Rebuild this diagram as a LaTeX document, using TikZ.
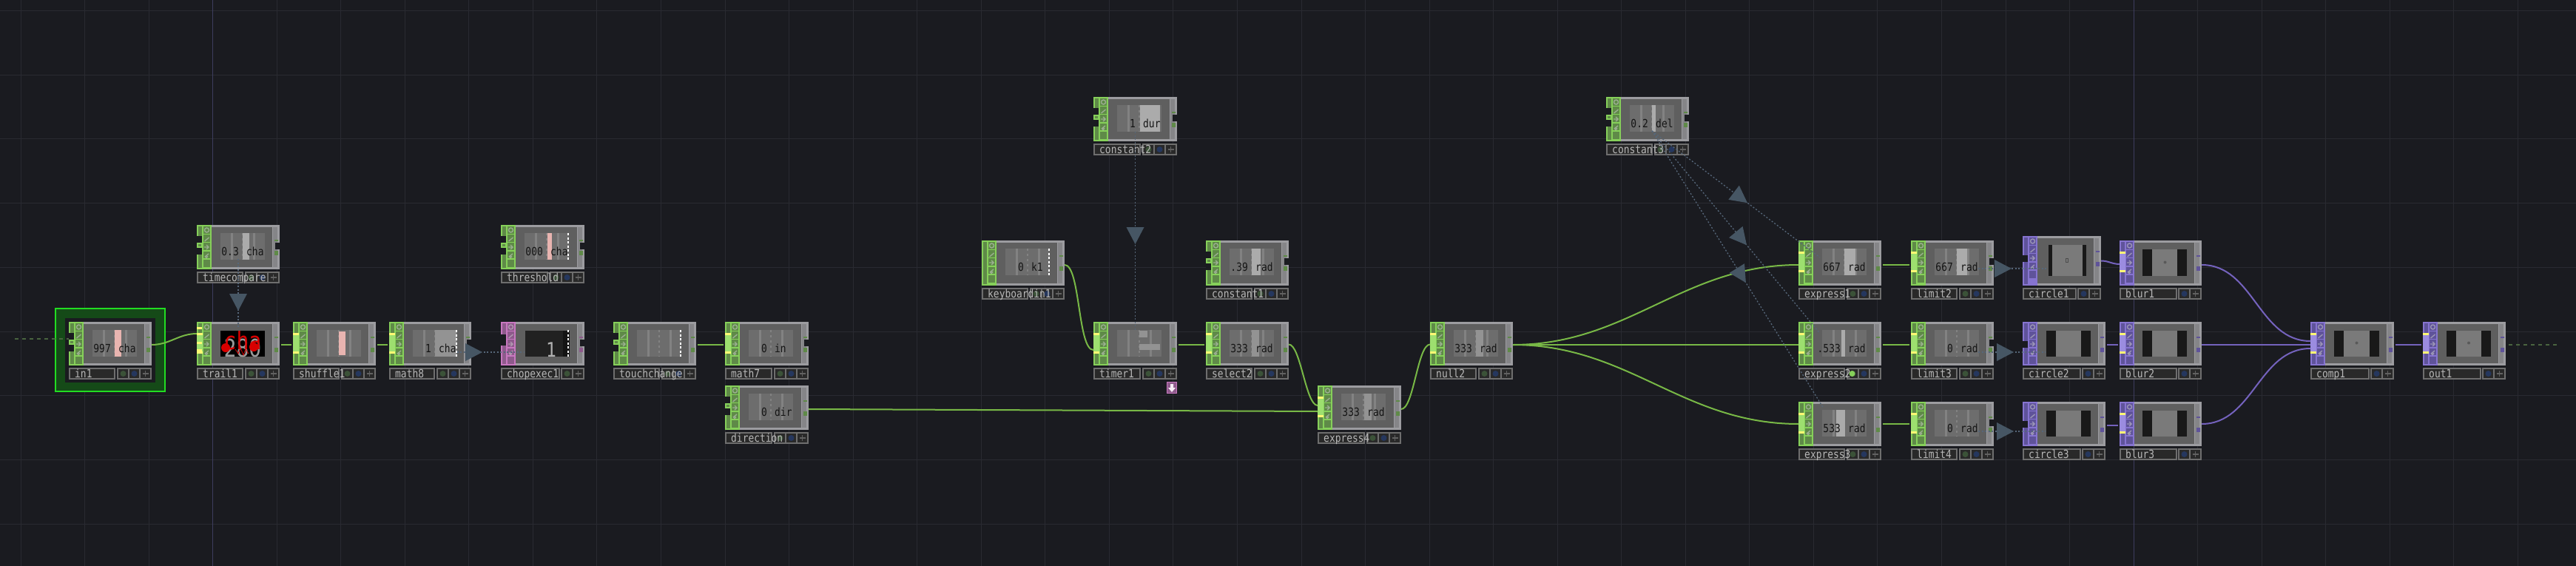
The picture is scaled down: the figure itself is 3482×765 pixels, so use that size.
\documentclass[tikz,border=0pt]{standalone}
\usepackage{fontspec}
\usetikzlibrary{decorations.markings}
\newfontfamily\opfont[FakeStretch=0.85]{DejaVu Sans Mono}

\definecolor{bgcol}{HTML}{1A1B20}
\definecolor{gridcol}{HTML}{292A31}
\definecolor{gridblue}{HTML}{3D3D5E}
\definecolor{frame}{HTML}{9C9CA0}
\definecolor{inner}{HTML}{5F5F5F}
\definecolor{viewcol}{HTML}{6D6D6D}
\definecolor{barcol}{HTML}{828282}
\definecolor{tagcol}{HTML}{6E6E6E}
\definecolor{tagfill}{HTML}{292929}
\definecolor{dotgreen}{HTML}{3B5238}
\definecolor{dotblue}{HTML}{25375E}
\definecolor{pinkbar}{HTML}{E8B4B0}
\definecolor{lightbar}{HTML}{ABABAB}
\definecolor{midbar}{HTML}{939393}
\definecolor{refcol}{HTML}{56677A}
\definecolor{tipcol}{HTML}{465664}
\definecolor{selline}{HTML}{22DD22}
\definecolor{selfill}{HTML}{154A18}
\definecolor{chopgreen}{HTML}{86D05A}
\definecolor{chopdark}{HTML}{5F8A48}
\definecolor{chopbright}{HTML}{9DDF6F}
\definecolor{chopwire}{HTML}{78B846}
\definecolor{toppurple}{HTML}{8674D0}
\definecolor{topdark}{HTML}{5F539A}
\definecolor{topbright}{HTML}{9B8CE0}
\definecolor{topwire}{HTML}{7462BD}
\definecolor{datpink}{HTML}{C878C0}
\definecolor{datdark}{HTML}{8E5A8C}

\tikzset{
  opbody/.style={fill=frame, anchor=north west, inner sep=0pt, outer sep=0pt},
  optag/.style={draw=tagcol, fill=tagfill, line width=2pt},
  oplabel/.style={text=black!28, anchor=base west, inner sep=0pt,
    font=\opfont\fontsize{15.2}{15.2}\selectfont},
  opnum/.style={text=black!92, inner sep=0pt,
    font=\opfont\fontsize{15.2}{15.2}\selectfont},
  opglyph/.style={draw=black!20!white, draw opacity=.55, line width=1.4pt},
  wire/.style={line width=2pt},
  chopline/.style={wire, draw=chopwire},
  topline/.style={wire, draw=topwire},
  extline/.style={draw=chopdark!60!gridcol, line width=2pt, dash pattern=on 5pt off 5pt},
  refline/.style={draw=refcol, line width=1.3pt, dash pattern=on 2pt off 2.5pt,
    postaction={decorate, decoration={markings, mark=at position #1 with
      {\fill[tipcol] (-23pt,12pt) -- (0pt,0pt) -- (-23pt,-12pt) -- cycle;}}}}
}

% (id)(x0,y0)(x1,y1){label}{buttons}{input kind}{output notch}
\def\opnode(#1)(#2,#3)(#4,#5)#6#7#8#9{%
  \def\opid{#1}\def\xa{#2}\def\ya{#3}\def\xb{#4}\def\yb{#5}%
  \node[opbody, minimum width={(#4-#2)*1pt}, minimum height={(#5-#3)*1pt}] (#1) at (#2,#3) {};
  \fill[inner] (#2+3,#3+3) rectangle (#4-10,#5-3);
  \fill[frame!85!black] (#4-9,#3+3) rectangle (#4-3,#5-3);
  \fill[opdark] (#4-7,#3+20) rectangle (#4-2,#3+22);
  \fill[opdark] (#4-7,#3+35) rectangle (#4-2,#3+41);
  \fill[opcol] (#2,#3) rectangle (#2+20,#5);
  \fill[opdark] (#2+2,#3+2) rectangle (#2+7,#5-2);
  \foreach \k in {0,...,4} {\fill[opdark] (#2+9,#3+2+\k*11.2) rectangle ++(9,9.8);}
  \draw[opglyph] (#2+13.5,#3+7) circle (3);
  \draw[opglyph] (#2+10.5,#3+22) -- ++(6,-5);
  \draw[opglyph] (#2+10,#3+30) -- ++(6,0) (#2+13,#3+27) -- ++(3,3) -- ++(-3,3);
  \draw[opglyph] (#2+11,#3+43) -- ++(5,-4) (#2+13,#3+43) circle (1.5);
  \ifcase#8\relax
  \or
    \fill[bgcol] (#2,#3+15) rectangle (#2+7,#3+25);
    \fill[bgcol] (#2,#3+30) rectangle (#2+7,#3+40);
    \draw[opcol, fill=opdark, line width=1.5pt] (#2+1,#3+25) rectangle (#2+7,#3+30);
  \or
    \fill[opbright] (#2,#3+17) rectangle (#2+8,#3+42);
    \fill[yellow!55!white] (#2,#3+15) rectangle (#2+8,#3+18);
    \fill[yellow!55!white] (#2,#3+40) rectangle (#2+8,#3+43);
  \or
    \fill[bgcol] (#2,#3+26) rectangle (#2+7,#3+35);
  \or
    \fill[bgcol] (#2,#3+17) rectangle (#2+7,#3+32);
  \fi
  \ifnum#9=1 \fill[bgcol] (#4-6,#3+24) rectangle (#4,#3+33);\fi
  \draw[optag] (#2+1,#5+4) rectangle (#4-#7*16-2,#5+18);
  \foreach \b in {1,...,#7} {\draw[optag] (#4-1-\b*15,#5+4) rectangle (#4-1-\b*15+15,#5+18);}
  \ifnum#7=3 \fill[dotgreen] (#4-38.5,#5+11) circle (4);\fi
  \fill[opdot] (#4-23.5,#5+11) circle (4);
  \draw[black!62, line width=1.5pt] (#4-12.5,#5+11) -- ++(8,0) (#4-8.5,#5+7) -- ++(0,8);
  \node[oplabel] (#1-l) at (#2+8,#5+16) {#6};
}
\newcommand{\opfamily}[3]{\colorlet{opcol}{#1}\colorlet{opdark}{#2}\colorlet{opbright}{#3}}
\newcommand{\opchop}[1]{%
  \fill[viewcol] (\xa+32,\ya+11) rectangle (\xa+92,\ya+47);
  \draw[barcol, line width=3pt] (\xa+47,\ya+11) -- (\xa+47,\ya+47) (\xa+77,\ya+11) -- (\xa+77,\ya+47);
  \draw[barcol, line width=2.5pt, dash pattern=on 3pt off 4pt] (\xa+62,\ya+11) -- (\xa+62,\ya+47);
  #1}
\newcommand{\opbar}[3]{\fill[#3] (\xa+#1,\ya+11) rectangle (\xa+#2,\ya+47);}
\newcommand{\opdots}{\draw[white, line width=2pt, dash pattern=on 3pt off 2.5pt] (\xa+91,\ya+11) -- (\xa+91,\ya+47);}
\newcommand{\opval}[2]{%
  \node[opnum, anchor=base east] (\opid-v) at (\xa+57,\ya+41) {#1};
  \node[opnum, anchor=base west] (\opid-u) at (\xa+67,\ya+41) {#2};}
% left offset, height, black band
\newcommand{\optop}[3]{%
  \fill[black!90] (\xa+#1,\ya+12) rectangle (\xb-20,\ya+#2);
  \fill[black!52] (\xa+#1+#3,\ya+12) rectangle (\xb-20-#3,\ya+#2);}
\newcommand{\opspot}{\fill[black!65] ({(\xa+\xb+12)/2},{(\ya+\yb)/2-1}) circle (2);}

\begin{document}
\begin{tikzpicture}[x=1pt, y=-1pt]
  \useasboundingbox (0,0) rectangle (3482,765);
  \fill[bgcol] (0,0) rectangle (3482,765);
  \foreach \k in {0,...,39} {\draw[gridcol, line width=1pt] (28+86.55*\k,0) -- (28+86.55*\k,765);}
  \foreach \k in {0,...,8} {\draw[gridcol, line width=1pt] (0,14.5+86.7*\k) -- (3482,14.5+86.7*\k);}
  \foreach \k in {3,33} {\draw[gridblue, line width=1pt] (28+86.55*\k,0) -- (28+86.55*\k,765);}
  \draw[selline, fill=selfill, line width=2pt] (75,417) rectangle (223,529);
  \fill[bgcol] (88,430) rectangle (210,517);

  \opfamily{chopgreen}{chopdark}{chopbright}
  \colorlet{opdot}{dotblue}
  \opnode(in1)(93,435)(205,494){in1}{3}{1}{0}
  \opchop{\opbar{62}{71}{pinkbar}} \opval{997}{cha}
  \opnode(timecompare)(266,304)(378,364){timecompare}{3}{1}{1}
  \opchop{\opbar{62}{71}{lightbar}} \opval{0.3}{cha}
  \opnode(trail1)(266,435)(378,494){trail1}{3}{2}{0}
  \foreach \k in {7,27,37} {\fill[yellow!55!white] (266,435+\k) rectangle (273,438+\k);}
  \fill[black] (298,447) rectangle (358,482);
  \begin{scope}
    \clip (298,447) rectangle (358,482);
    \node[text=black!40, inner sep=0pt, anchor=base, font=\opfont\fontsize{33}{33}\selectfont] (trail1-v) at (328,482) {280};
    \node[text=red!85!black, inner sep=0pt, anchor=base, font=\opfont\fontsize{33}{33}\selectfont] (trail1-u) at (328,472) {cha};
    \fill[red!85!black] (305,470) circle (6) (343,469) circle (6);
    \draw[red!85!black, line width=.8pt] (318,472) -- (322,478) -- (325,470) -- (329,480) -- (332,472) -- (336,478);
  \end{scope}
  \opnode(shuffle1)(396,435)(508,494){shuffle1}{3}{2}{0}
  \opchop{\fill[pinkbar] (\xa+62,\ya+13) rectangle (\xa+71,\ya+45);}
  \opnode(math8)(526,435)(637,494){math8}{3}{2}{1}
  \opchop{\opbar{62}{91}{midbar}\opdots} \opval{1}{cha}
  \opnode(threshold)(677,304)(790,364){threshold}{3}{1}{1}
  \opchop{\opbar{63}{69}{pinkbar}\opdots} \opval{000}{cha}
  \opnode(touchchange)(829,435)(941,494){touchchange}{3}{1}{0}
  \opchop{\opdots}
  \opnode(math7)(980,435)(1093,494){math7}{3}{2}{1}
  \opchop{} \opval{0}{in}
  \opnode(direction)(980,521)(1093,581){direction}{3}{1}{0}
  \opchop{} \opval{0}{dir}
  \opnode(constant2)(1478,131)(1591,191){constant2}{3}{1}{1}
  \opchop{\opbar{63}{90}{lightbar}} \opval{1}{dur}
  \opnode(keyboardin1)(1327,325)(1439,386){keyboardin1}{3}{0}{0}
  \opchop{\opdots} \opval{0}{k1}
  \opnode(constant1)(1630,325)(1742,386){constant1}{3}{1}{1}
  \opchop{\opbar{62}{74}{lightbar}} \opval{.39}{rad}
  \opnode(timer1)(1478,435)(1591,494){timer1}{3}{2}{0}
  \opchop{\fill[midbar] (\xa+62,\ya+12) rectangle (\xa+73,\ya+21);
    \fill[midbar] (\xa+62,\ya+30) rectangle (\xa+90,\ya+38);}
  \opnode(select2)(1630,435)(1742,494){select2}{3}{2}{0}
  \opchop{\opbar{62}{72}{midbar}} \opval{333}{rad}
  \opnode(express4)(1781,521)(1894,581){express4}{3}{2}{0}
  \opchop{\opbar{63}{73}{midbar}} \opval{333}{rad}
  \opnode(null2)(1933,435)(2045,494){null2}{3}{2}{0}
  \opchop{\opbar{62}{72}{midbar}} \opval{333}{rad}
  \opnode(constant3)(2171,131)(2283,191){constant3}{3}{1}{1}
  \opchop{\opbar{62}{67}{lightbar}} \opval{0.2}{del}
  \opnode(express1)(2431,325)(2543,386){express1}{3}{2}{0}
  \opchop{\opbar{62}{77}{lightbar}} \opval{667}{rad}
  \opnode(limit2)(2583,325)(2695,386){limit2}{3}{2}{1}
  \opchop{\opbar{62}{76}{lightbar}} \opval{667}{rad}
  \opnode(express2)(2431,435)(2543,494){express2}{3}{2}{0}
  \opchop{\opbar{58}{63}{lightbar}} \opval{.533}{rad}
  \fill[chopgreen] (2503.5,505) circle (4);
  \opnode(limit3)(2583,435)(2695,494){limit3}{3}{2}{1}
  \opchop{} \opval{0}{rad}
  \opnode(express3)(2431,543)(2543,603){express3}{3}{2}{0}
  \opchop{\opbar{51}{63}{lightbar}} \opval{533}{rad}
  \opnode(limit4)(2583,543)(2695,603){limit4}{3}{2}{1}
  \opchop{} \opval{0}{rad}

  \opfamily{datpink}{datdark}{datpink}
  \colorlet{opdot}{dotgreen}
  \opnode(chopexec1)(677,435)(790,494){chopexec1}{2}{4}{1}
  \fill[black!87] (710,447) rectangle (770,482);
  \fill[black!92] (761,447) rectangle (770,482);
  \opdots
  \node[text=black!30, inner sep=0pt, anchor=base, font=\opfont\fontsize{27}{27}\selectfont] (chopexec1-v) at (745,482) {1};

  \opfamily{toppurple}{topdark}{topbright}
  \colorlet{opdot}{dotblue}
  \opnode(circle1)(2734,319)(2840,386){circle1}{2}{3}{0}
  \optop{35}{54}{5} \draw[black!70, line width=1pt] (2792,349) rectangle (2795,354);
  \opnode(blur1)(2865,325)(2976,386){blur1}{2}{2}{0}
  \optop{31}{48}{13} \opspot
  \opnode(circle2)(2734,435)(2846,494){circle2}{2}{3}{0}
  \optop{32}{47}{13}
  \opnode(blur2)(2865,435)(2976,494){blur2}{2}{2}{0}
  \optop{31}{47}{13}
  \opnode(circle3)(2734,543)(2846,603){circle3}{2}{3}{0}
  \optop{32}{47}{13}
  \opnode(blur3)(2865,543)(2976,603){blur3}{2}{2}{0}
  \optop{31}{47}{13}
  \opnode(comp1)(3123,435)(3236,494){comp1}{2}{2}{0}
  \optop{32}{47}{13} \opspot
  \opnode(out1)(3275,435)(3387,494){out1}{2}{2}{0}
  \optop{32}{47}{13} \opspot

  \node[fill=datdark, draw=datpink, line width=1pt, minimum width=13pt, minimum height=15pt, inner sep=0pt] (timerflag) at (1584,524) {};
  \fill[white!85!datpink] (1582,519) rectangle (1586,524) (1579,524) -- (1589,524) -- (1584,530) -- cycle;

  \coordinate (inlead) at (20,458);
  \coordinate (outlead) at (3460,466);
  \draw[extline] (inlead) -- ([yshift=6.5pt]in1.west);
  \draw[extline] ([yshift=-1.5pt,xshift=4pt]out1.east) -- (outlead);

  \foreach \a/\b in {trail1/shuffle1, shuffle1/math8, touchchange/math7, timer1/select2, express2/limit3}
    \draw[chopline, shorten >=2pt, shorten <=2pt] ([yshift=-1.5pt]\a.east) -- ([yshift=-1.5pt]\b.west);
  \draw[chopline] ([yshift=-1.5pt]null2.east) -- ([yshift=-1.5pt]express2.west);
  \draw[chopline, shorten >=2pt, shorten <=2pt] ([yshift=-2pt]express1.east) -- ([yshift=-2pt]limit2.west);
  \draw[chopline, shorten >=2pt, shorten <=2pt] (express3.east) -- (limit4.west);
  \draw[chopline] ([yshift=-2pt]direction.east) -- ([yshift=-5pt]express4.west);
  \path[chopline, looseness=.45]
    ([yshift=-1.5pt]in1.east) edge [out=0, in=180, looseness=1] ([yshift=13.5pt]trail1.west)
    ([yshift=-2.5pt]keyboardin1.east) edge [out=0, in=180] ([yshift=-8.5pt]timer1.west)
    ([yshift=-1pt]select2.east) edge [out=0, in=180] ([yshift=3pt]express4.west)
    ([yshift=-2pt]express4.east) edge [out=0, in=180] ([yshift=-1pt]null2.west);
  \path[chopline]
    ([yshift=-1.5pt]null2.east) edge [out=0, in=180] ([yshift=-2.5pt]express1.west)
    ([yshift=-1.5pt]null2.east) edge [out=0, in=180] (express3.west);

  \foreach \a/\b in {circle2/blur2, circle3/blur3, comp1/out1}
    \draw[topline, shorten >=2pt, shorten <=2pt] ([yshift=-1.5pt]\a.east) -- ([yshift=-1.5pt]\b.west);
  \draw[topline] ([yshift=-1.5pt]blur2.east) -- ([yshift=-1.5pt]comp1.west);
  \path[topline]
    (circle1.east) edge [out=0, in=180] ([yshift=-1.5pt]blur1.west)
    ([yshift=-2.5pt]blur1.east) edge [out=0, in=180] ([yshift=3.5pt]comp1.west)
    (blur3.east) edge [out=0, in=180] ([yshift=-6.5pt]comp1.west);

  \draw[refline=.659, shorten <=16pt, shorten >=21pt] (timecompare.center) -- (trail1.center);
  \draw[refline=.464, shorten <=36pt, shorten >=25pt] ([yshift=-11.5pt]math8.center) -- ([yshift=-11.5pt]chopexec1.center);
  \draw[refline=.557, shorten <=17pt, shorten >=19pt] (constant2.center) -- (timer1.center);
  \draw[refline=.568] ([shift={(6pt,-16pt)}]constant3.center) -- ([shift={(-27pt,7.5pt)}]express1.center);
  \draw[refline=.564] ([shift={(6pt,-16pt)}]constant3.center) -- ([shift={(-27pt,14pt)}]express2.center);
  \draw[refline=.547] ([shift={(6pt,-16pt)}]constant3.center) -- ([shift={(-22pt,21pt)}]express3.center);
  \draw[refline=.54, shorten <=35pt, shorten >=20pt] ([yshift=-7.5pt]limit2.center) -- ([yshift=-10.5pt]circle1.center);
  \draw[refline=.55, shorten <=35pt, shorten >=25pt] ([yshift=-11.5pt]limit3.center) -- ([yshift=-11.5pt]circle2.center);
  \draw[refline=.55, shorten <=35pt, shorten >=25pt] ([yshift=-10pt]limit4.center) -- ([yshift=-10pt]circle3.center);
\end{tikzpicture}
\end{document}
